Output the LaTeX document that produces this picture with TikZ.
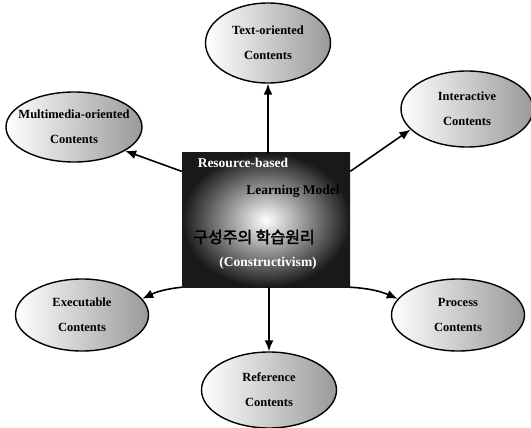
\documentclass[tikz,border=0pt]{standalone}
\usepackage{fontspec}
\setmainfont{Liberation Serif}
\newfontfamily\krfont{Noto Sans CJK KR}[AutoFakeBold=2.5]
\usetikzlibrary{arrows.meta,shapes,calc}
\tikzstyle{contents}=[draw, ellipse, line width=1.4pt, minimum width=132pt, minimum height=76pt, left color=white, right color=black!40]
\tikzstyle{ctext}=[align=center, font=\bfseries\fontsize{12.5}{25}\selectfont]
\tikzstyle{modelbox}=[rectangle, minimum width=168pt, minimum height=134pt, inner color=white, outer color=black!90]
\tikzstyle{link}=[line width=1.6pt, -{Latex[length=11pt,width=9pt]}]
\tikzstyle{boxtext}=[font=\bfseries\fontsize{13.5}{15}\selectfont, inner sep=1pt]

\begin{document}
\begin{tikzpicture}[x=1pt,y=-1pt]
	\useasboundingbox (0,0) rectangle (531,428);
	\node[modelbox] (model) at (266,220) {};
	\node[boxtext, text=white] (rb) at (243,163) {Resource-based};
	\node[boxtext] (lm) at (293,191) {Learning Model};
	\node[boxtext, font=\krfont\bfseries\fontsize{16}{18}\selectfont] (kr) at (254,237) {구성주의 학습원리};
	\node[boxtext, text=white] (cons) at (268,263) {(Constructivism)};
	% contents around the model
	\node[contents, minimum width=125pt, minimum height=80pt, label={[ctext]center:{Text-oriented\\Contents}}] (textc) at (268,43) {};
	\node[contents, label={[ctext]center:{Interactive\\Contents}}] (inter) at (467,109) {};
	\node[contents, minimum width=136pt, minimum height=70pt, label={[ctext]center:{Multimedia-oriented\\Contents}}] (multi) at (74,127) {};
	\node[contents, minimum width=133pt, minimum height=72pt, label={[ctext]center:{Executable\\Contents}}] (exec) at (82,315) {};
	\node[contents, minimum width=133pt, minimum height=72pt, label={[ctext]center:{Process\\Contents}}] (proc) at (458,315) {};
	\node[contents, minimum width=135pt, minimum height=76pt, label={[ctext]center:{Reference\\Contents}}] (ref) at (269,390) {};
	\draw[link] (model.north -| textc.south) -- (textc.south);
	\draw[link] (model.150) -- (multi.-25);
	\draw[link] (model.30) -- (inter.200);
	\draw[link] (model.south west) to[bend right=10] (exec.15);
	\draw[link] (model.south east) to[bend left=10] (proc.165);
	\draw[link] (model.south -| ref.north) -- (ref.north);
\end{tikzpicture}
\end{document}
